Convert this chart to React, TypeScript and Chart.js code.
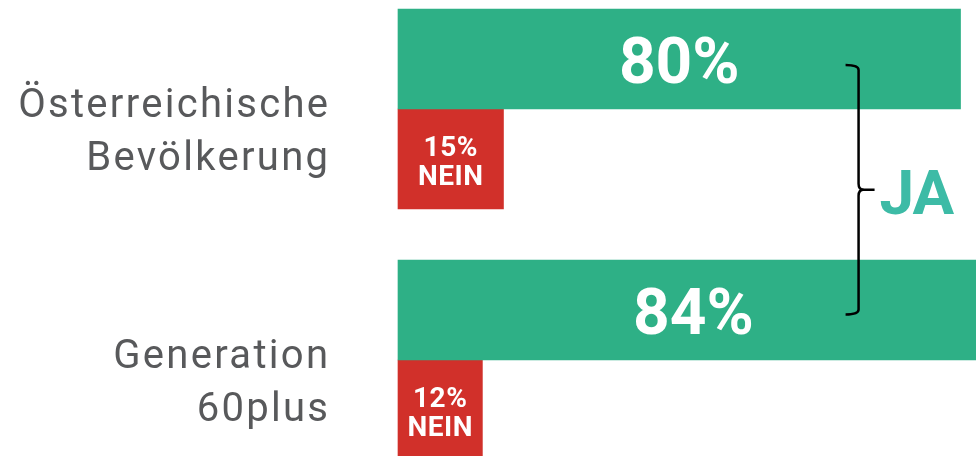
import React, { useEffect, useRef } from 'react';
import { Chart, registerables } from 'chart.js';

Chart.register(...registerables);

// ---- data ----
const categories: string[][] = [
  ['Österreichische', 'Bevölkerung'],
  ['Generation', '60plus'],
];
const jaValues = [80, 84];
const neinValues = [15, 12];
const jaLabel = 'JA';
const neinLabel = 'NEIN';
const xMax = 82.2;

// ---- styles ----
const GREEN = '#2eb086';
const RED = '#d1302a';
const TEAL = '#3dbba6';
const GRAY = '#58595b';

const overlay = {
  id: 'overlay',
  afterDatasetsDraw(chart: any) {
    const ctx = chart.ctx as CanvasRenderingContext2D & { letterSpacing?: string };
    const ys = chart.scales.y;
    const xs = chart.scales.x;
    const area = chart.chartArea;
    ctx.save();

    // category labels
    ctx.fillStyle = GRAY;
    ctx.font = '400 40px Roboto, "Noto Sans", sans-serif';
    ctx.textAlign = 'right';
    ctx.textBaseline = 'alphabetic';
    ctx.letterSpacing = '2.3px';
    categories.forEach((lines, i) => {
      const cy = ys.getPixelForValue(i);
      lines.forEach((line, j) => {
        ctx.fillText(line, area.left - 67.7, cy + 8 + j * 53);
      });
    });
    ctx.letterSpacing = '0px';

    // JA values
    const jaMeta = chart.getDatasetMeta(0);
    ctx.fillStyle = '#ffffff';
    ctx.textAlign = 'center';
    ctx.font = 'bold 64px Roboto, "Noto Sans", sans-serif';
    jaMeta.data.forEach((bar: any, i: number) => {
      const { x, y, base } = bar.getProps(['x', 'y', 'base'], true);
      ctx.fillText(`${jaValues[i]}%`, (x + base) / 2, y + 23.5);
    });

    // NEIN values
    const neinMeta = chart.getDatasetMeta(1);
    ctx.font = 'bold 28px Roboto, "Noto Sans", sans-serif';
    neinMeta.data.forEach((bar: any, i: number) => {
      const { x, y, base } = bar.getProps(['x', 'y', 'base'], true);
      const cx = (x + base) / 2;
      ctx.letterSpacing = '0.5px';
      ctx.fillText(`${neinValues[i]}%`, cx, y - 3.5);
      ctx.fillText(neinLabel, cx, y + 26);
      ctx.letterSpacing = '0px';
    });

    // bracket
    const top = jaMeta.data[0].y + 6;
    const bot = jaMeta.data[1].y + 4.5;
    const bx = xs.getPixelForValue(65.5);
    const mid = (top + bot) / 2;
    ctx.strokeStyle = '#000000';
    ctx.lineWidth = 2.5;
    ctx.lineCap = 'butt';
    ctx.beginPath();
    ctx.moveTo(bx - 13, top);
    ctx.quadraticCurveTo(bx, top, bx, top + 5);
    ctx.lineTo(bx, mid - 6);
    ctx.quadraticCurveTo(bx, mid, bx + 5, mid);
    ctx.quadraticCurveTo(bx, mid, bx, mid + 6);
    ctx.lineTo(bx, bot - 5);
    ctx.quadraticCurveTo(bx, bot, bx - 13, bot);
    ctx.stroke();
    ctx.beginPath();
    ctx.moveTo(bx + 3, mid);
    ctx.lineTo(bx + 16, mid);
    ctx.stroke();

    // JA label
    ctx.fillStyle = TEAL;
    ctx.textAlign = 'left';
    ctx.font = 'bold 62px Roboto, "Noto Sans", sans-serif';
    ctx.letterSpacing = '-1px';
    ctx.fillText(jaLabel, bx + 21, mid + 24);
    ctx.letterSpacing = '0px';

    ctx.restore();
  },
};

export default function App() {
  const ref = useRef<HTMLCanvasElement | null>(null);

  useEffect(() => {
    if (!ref.current) return;
    const chart = new Chart(ref.current, {
      type: 'bar',
      data: {
        labels: categories as any,
        datasets: [
          {
            label: jaLabel,
            data: jaValues,
            backgroundColor: GREEN,
            borderWidth: 0,
            barThickness: 100,
            clip: false as any,
          },
          {
            label: neinLabel,
            data: neinValues,
            backgroundColor: RED,
            borderWidth: 0,
            barThickness: 100,
            clip: false as any,
          },
        ],
      },
      options: {
        indexAxis: 'y',
        responsive: false,
        animation: false,
        layout: { padding: { top: 109, bottom: 96, left: 398, right: 0 } },
        plugins: {
          legend: { display: false },
          tooltip: { enabled: false },
        },
        scales: {
          x: { display: false, min: 0, max: xMax },
          y: { display: false, offset: false },
        },
      },
      plugins: [overlay],
    });
    return () => chart.destroy();
  }, []);

  return (
    <div style={{ position: 'fixed', left: 0, top: 0, width: 976, height: 456, background: '#fff' }}>
      <canvas ref={ref} width={976} height={456} style={{ display: 'block' }} />
    </div>
  );
}
